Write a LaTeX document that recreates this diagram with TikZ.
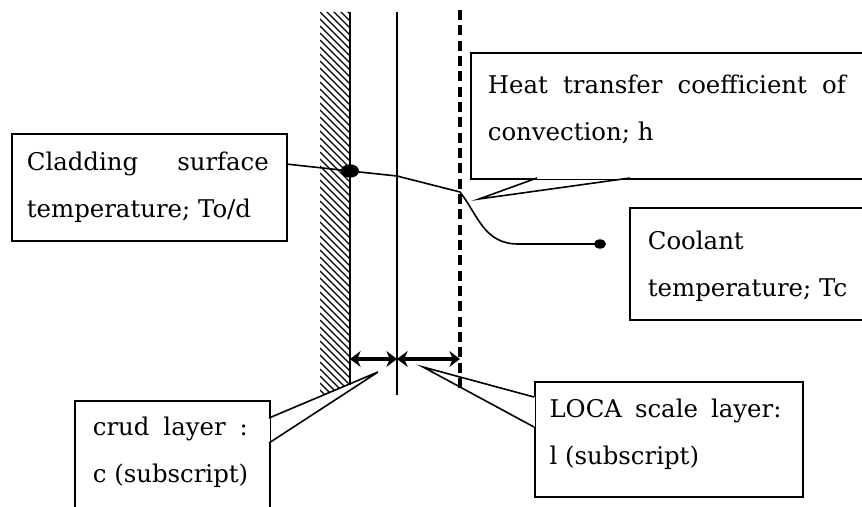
\documentclass[tikz,border=0pt]{standalone}
\usepackage{fontspec}
\setmainfont{DejaVu Serif}
\usetikzlibrary{arrows.meta}
\usetikzlibrary{shapes.geometric}
\newcommand{\boxtext}[3]{\parbox[c][#2pt][t]{#1pt}{#3}}
\newcommand{\boxline}[2]{\makebox[#1pt][s]{#2}}
\tikzset{
  infobox/.style={draw,fill=white,line width=1.3pt,anchor=north west,inner sep=0pt,
    font=\fontsize{18.3}{35.25}\selectfont},
  thinline/.style={line width=1.2pt},
  dotnode/.style={ellipse,fill=black,inner sep=0pt},
  sizearrow/.style={{Stealth[length=8pt,width=12pt]}-{Stealth[length=8pt,width=12pt]},line width=3.6pt}
}
\begin{document}
\begin{tikzpicture}[x=0.75pt,y=-0.75pt]
  \useasboundingbox (0,0) rectangle (862,506);

  % Draw hatched wall
  \begin{scope}
    \clip (320,12) -- (350,12) -- (350,384) -- (320,397) -- cycle;
    \foreach \hatchy in {-30,-23,...,400}
      \draw[line width=1pt] (320,\hatchy) -- ++(30,30);
  \end{scope}

  % Draw layer borders
  \coordinate (walltop) at (350,12);
  \coordinate (wallbot) at (350,385);
  \coordinate (midtop) at (397,12);
  \coordinate (midbot) at (397,395);
  \coordinate (dashtop) at (460,10);
  \coordinate (dashbot) at (460,392);
  \draw[line width=1.8pt] (walltop) -- (wallbot);
  \draw[thinline] (midtop) -- (midbot);
  \draw[line width=2.6pt,dash pattern=on 7.5pt off 4pt] (dashtop) -- (dashbot);

  % Draw boxes
  \node[infobox,inner xsep=12.75pt,inner ysep=16.9pt] (heatbox) at (470,52)
    {\boxtext{300}{60.7}{\boxline{268.5}{Heat transfer coefficient of}\\convection; h}};
  \node[infobox,inner xsep=11.25pt,inner ysep=13.9pt] (cladbox) at (11,133)
    {\boxtext{183.75}{52.45}{\boxline{181.5}{Cladding surface}\\temperature; To/d}};
  \node[infobox,inner xsep=13.5pt,inner ysep=17.6pt] (coolbox) at (629,207)
    {\boxtext{200}{48.8}{Coolant\\temperature; Tc}};
  \node[infobox,inner xsep=13.5pt,inner ysep=12.4pt] (crudbox) at (74,400)
    {\boxtext{119.25}{90}{\boxline{116.25}{crud layer :}\\c (subscript)}};
  \node[infobox,inner xsep=11pt,inner ysep=13.1pt] (locabox) at (534,381)
    {\boxtext{179}{60}{\boxline{174}{LOCA scale layer:}\\l (subscript)}};

  % Draw callout tails
  \coordinate (heatroota) at (537,178);
  \coordinate (heatrootb) at (630,178);
  \coordinate (heattip) at (479,199);
  \draw[white,line width=2pt] (heatroota) -- (heatrootb);
  \draw[thinline] (heatroota) -- (heattip) -- (heatrootb);

  \coordinate (crudroota) at (269,418);
  \coordinate (crudrootb) at (269,443);
  \coordinate (crudtip) at (378,372);
  \draw[white,line width=2pt] (crudroota) -- (crudrootb);
  \draw[thinline] (crudroota) -- (crudtip) -- (crudrootb);

  \coordinate (locaroota) at (534,397);
  \coordinate (locarootb) at (534,427);
  \coordinate (locatip) at (423,367);
  \draw[white,line width=2pt] (locaroota) -- (locarootb);
  \draw[thinline] (locaroota) -- (locatip) -- (locarootb);

  % Draw temperature profile
  \node[dotnode,minimum width=13.5pt,minimum height=10pt] (walldot) at (350,171) {};
  \node[dotnode,minimum width=9pt,minimum height=7pt] (coolantdot) at (600,244) {};
  \coordinate (cladroot) at (286,164);
  \coordinate (midpoint) at (397,176);
  \coordinate (dashpoint) at (460,192);
  \draw[thinline] (cladroot) -- (walldot.center) -- (midpoint) -- (dashpoint)
    .. controls (478,215) and (484,244) .. (518,244) -- (coolantdot.center);

  % Draw layer thickness
  \coordinate (wallsize) at (350,359);
  \coordinate (midsize) at (397,359);
  \coordinate (dashsize) at (460,359);
  \draw[sizearrow] (wallsize) -- (midsize);
  \draw[sizearrow] (midsize) -- (dashsize);
\end{tikzpicture}
\end{document}
